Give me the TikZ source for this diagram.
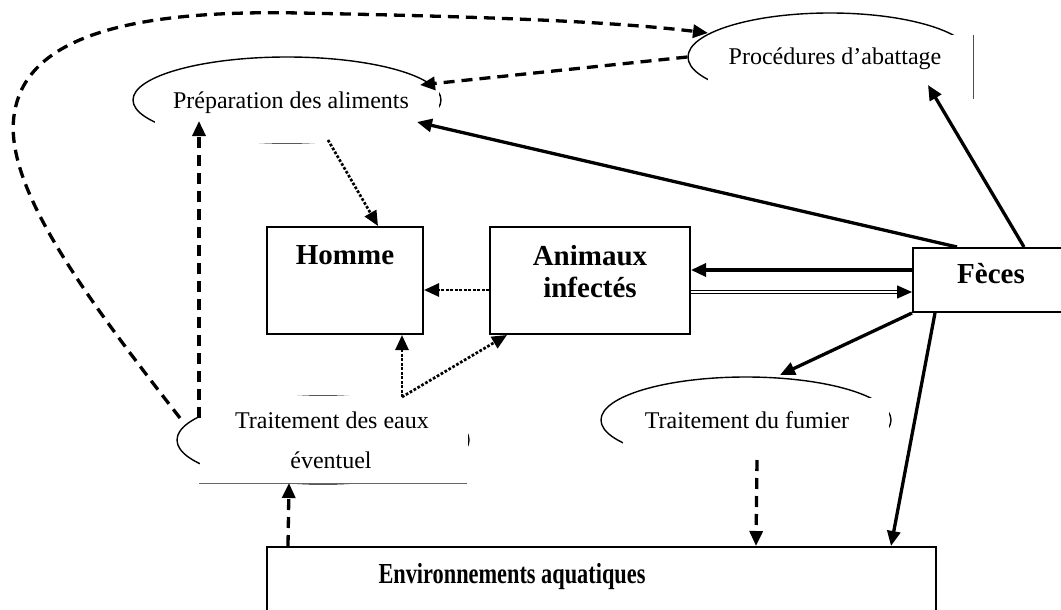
\documentclass[tikz,border=0pt]{standalone}
\usepackage{fontspec}
\setmainfont{Liberation Serif}
\usetikzlibrary{arrows.meta,shapes.geometric}
\begin{document}
\begin{tikzpicture}[x=1pt,y=-1pt,
  box/.style={draw, line width=2pt, rectangle, inner sep=0pt},
  oval/.style={draw, ellipse, line width=1.4pt, inner sep=0pt},
  lbl/.style={font=\fontsize{24}{40}\selectfont, inner sep=0pt, anchor=base},
  blbl/.style={font=\fontsize{29}{32}\selectfont\bfseries, inner sep=0pt, anchor=base},
  tip/.style={-{Triangle[length=15pt,width=13pt]}},
  solidarrow/.style={line width=3.3pt, tip},
  dasharrow/.style={line width=3.3pt, dash pattern=on 11pt off 7pt, tip},
  dotarrow/.style={line width=2.7pt, dash pattern=on 2.7pt off 1.8pt, tip},
  dblarrow/.style={double, double distance=1.6pt, line width=1.6pt, tip},
]
\useasboundingbox (0,0) rectangle (1061,610);

% ovals, partly hidden behind their white text areas
\node[oval, minimum width=308pt, minimum height=86pt] (prep) at (287,100) {};
\node[oval, minimum width=284pt, minimum height=88pt] (proc) at (830,57) {};
\node[oval, minimum width=290pt, minimum height=86pt] (fum)  at (746,420) {};
\node[oval, minimum width=292pt, minimum height=88pt] (eaux) at (323,440) {};

\fill[white] (155,87) rectangle (438.5,142.5);
\fill[white] (708,35) rectangle (973,102);
\fill[white] (623,398) rectangle (889,470);
\fill[white] (200,395.5) rectangle (467.5,483);
\draw[line width=1pt, black!70] (973,35) -- (973,99);
\draw[line width=0.8pt, black!60] (199,483) -- (467,483);

% boxes
\node[box, minimum width=156pt, minimum height=107pt] (homme)   at (345,280.5) {};
\node[box, minimum width=200pt, minimum height=107pt] (animaux) at (590,280.5) {};
\node[box, minimum width=160pt, minimum height=64pt]  (feces)   at (993,280) {};
\node[box, minimum width=669pt, minimum height=110pt] (env)     at (601.5,602) {};

% labels
\node[lbl] (prepT) at (291,108) {Préparation des aliments};
\node[lbl] (procT) at (835,65) {Procédures d’abattage};
\node[lbl] (eauxT) at (332,428) {Traitement des eaux};
\node[lbl] (eauxU) at (331,468) {éventuel};
\node[lbl] (fumT)  at (747,428) {Traitement du fumier};
\node[blbl] (hommeT) at (345,264) {Homme};
\node[blbl] (animT)  at (590,265) {Animaux};
\node[blbl] (animU)  at (590,297) {infectés};
\node[blbl] (fecesT) at (991,283) {Fèces};
\node[blbl] (envT)   at (512,583) {\scalebox{0.77}[1]{Environnements aquatiques}};

% connectors
\draw[dasharrow] ([shift={(-143,-22)}]eaux.center)
  .. controls (80,290) and (0,180) .. (15,110)
  .. controls (30,30) and (150,10) .. (300,13)
  .. controls (450,16) and (600,20) .. ([shift={(-122,-24)}]proc.center);
\draw[dasharrow] (proc.west) -- ([shift={(133,-15)}]prep.center);
\draw[solidarrow] ([xshift=45pt]feces.north west) -- ([shift={(130,22)}]prep.center);
\draw[solidarrow] ([xshift=112pt]feces.north west) -- ([shift={(98,28)}]proc.center);
\draw[dotarrow] ([shift={(41,40)}]prep.center) -- ([xshift=33pt]homme.north);
\draw[dasharrow] ([shift={(-124,-22)}]eaux.center) -- ([shift={(-88,21)}]prep.center);
\draw[dotarrow] ([shift={(0,9.5)}]animaux.west) -- ([shift={(0,9.5)}]homme.east);
\coordinate (fork) at ([shift={(79,-43)}]eaux.center);
\draw[dotarrow] (fork) -- (fork |- homme.south);
\draw[dotarrow] (fork) -- ([xshift=18pt]animaux.south west);
\draw[solidarrow] ([shift={(0,-10)}]feces.west) -- ([shift={(0,-10.5)}]animaux.east);
\draw[dblarrow] ([shift={(0,11.5)}]animaux.east) -- ([shift={(0,12)}]feces.west);
\draw[solidarrow] (feces.south west) -- ([shift={(34,-45)}]fum.center);
\draw[solidarrow] ([xshift=23pt]feces.south west) -- ([xshift=625pt]env.north west);
\draw[dasharrow] ([shift={(11,40)}]fum.center) -- ([xshift=490pt]env.north west);
\draw[dasharrow] ([xshift=22pt]env.north west) -- ([shift={(-34,43)}]eaux.center);
\end{tikzpicture}
\end{document}
